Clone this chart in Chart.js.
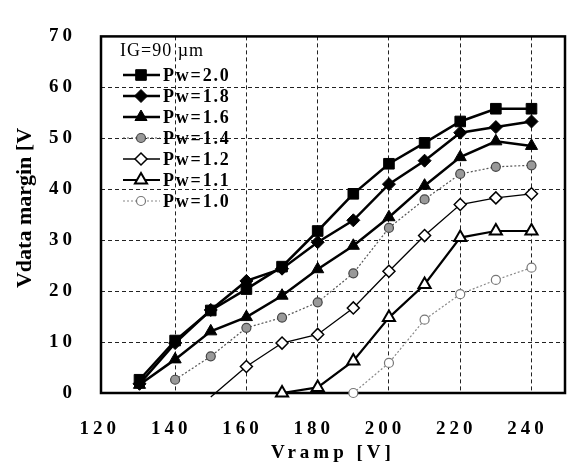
<!DOCTYPE html>
<html>
<head>
<meta charset="utf-8">
<script src="https://cdn.jsdelivr.net/npm/chart.js@4.4.1/dist/chart.umd.min.js"></script>
<style>
  html, body { margin: 0; padding: 0; background: #fff; }
</style>
</head>
<body>
<canvas id="chart" width="574" height="468"></canvas>
<script>
// Vramp values (x) and tick labels
var vramp = [130, 140, 150, 160, 170, 180, 190, 200, 210, 220, 230, 240];
var xTicks = [120, 140, 160, 180, 200, 220, 240];
var yTicks = [0, 10, 20, 30, 40, 50, 60, 70];

// Vdata margin per pulse width
var pw20 = [2.6, 10.3, 16.2, 20.4, 24.8, 31.8, 39.1, 45.0, 49.1, 53.3, 55.8, 55.8];
var pw18 = [1.8, 9.8, 16.3, 22.0, 24.4, 29.6, 33.9, 41.0, 45.6, 51.1, 52.2, 53.3];
var pw16 = [1.6, 6.6, 12.1, 14.9, 19.1, 24.3, 28.9, 34.5, 40.7, 46.3, 49.4, 48.5];
var pw14 = [null, 2.6, 7.2, 12.8, 14.8, 17.8, 23.5, 32.4, 38.0, 43.0, 44.4, 44.7];
var pw12 = [null, null, -0.8, 5.2, 9.8, 11.5, 16.7, 23.9, 30.9, 37.0, 38.3, 39.1];
var pw11 = [null, null, null, null, 0, 1.1, 6.3, 14.8, 21.3, 30.5, 31.8, 31.8];
var pw10 = [null, null, null, null, null, null, 0, 5.9, 14.4, 19.4, 22.2, 24.6];

var legendTitle = "IG=90 \u00b5m";
var serif = "'Liberation Serif', 'DejaVu Serif', serif";

function toPoints(values) {
  return vramp.map(function (x, i) { return { x: x, y: values[i] }; });
}

// hide markers that fall below the axis
function radiusFor(r) {
  return function (ctx) {
    var v = ctx.raw ? ctx.raw.y : null;
    return v !== null && v < 0 ? 0 : r;
  };
}

function series(label, values, style) {
  return Object.assign({
    label: label,
    data: toPoints(values),
    showLine: true,
    clip: false,
    borderColor: "#000",
    borderWidth: 2.5,
    pointBorderColor: "#000",
    pointBackgroundColor: "#000",
    pointBorderWidth: 1,
    pointRadius: radiusFor(style.r || 6),
    legendRadius: style.r || 6
  }, style);
}

var datasets = [
  series("Pw=2.0", pw20, { pointStyle: "rect", r: 7.5 }),
  series("Pw=1.8", pw18, { pointStyle: "rectRot", r: 6.5 }),
  series("Pw=1.6", pw16, { pointStyle: "triangle", r: 7 }),
  series("Pw=1.4", pw14, { pointStyle: "circle", r: 4.5, borderColor: "#555", borderWidth: 1.2,
    borderDash: [2, 2], pointBackgroundColor: "#999", pointBorderColor: "#444", pointBorderWidth: 1.2 }),
  series("Pw=1.2", pw12, { pointStyle: "rectRot", r: 6, borderWidth: 1.3,
    pointBackgroundColor: "#fff", pointBorderWidth: 1.5 }),
  series("Pw=1.1", pw11, { pointStyle: "triangle", r: 7, borderWidth: 2.2,
    pointBackgroundColor: "#fff", pointBorderWidth: 2 }),
  series("Pw=1.0", pw10, { pointStyle: "circle", r: 4.5, borderColor: "#888", borderWidth: 1.2,
    borderDash: [2, 2], pointBackgroundColor: "#fff", pointBorderColor: "#777", pointBorderWidth: 1.2 })
];

// wide letter spacing like the scanned figure
var spacingPlugin = {
  id: "spacing",
  beforeDraw: function (chart) { chart.ctx.letterSpacing = "4px"; }
};

var framePlugin = {
  id: "frame",
  beforeDatasetsDraw: function (chart) {
    var a = chart.chartArea, ctx = chart.ctx;
    ctx.save();
    ctx.strokeStyle = "#000";
    ctx.lineWidth = 2.5;
    ctx.strokeRect(a.left, a.top, a.right - a.left, a.bottom - a.top);
    ctx.restore();
  }
};

var textPlugin = {
  id: "texts",
  afterDraw: function (chart) {
    var ctx = chart.ctx;
    ctx.save();
    ctx.fillStyle = "#000";

    // y axis title
    ctx.letterSpacing = "0px";
    ctx.save();
    ctx.translate(25, 208);
    ctx.rotate(-Math.PI / 2);
    ctx.font = "bold 22px " + serif;
    ctx.textAlign = "center";
    ctx.textBaseline = "middle";
    ctx.fillText("Vdata margin [V", 0, 0);
    ctx.restore();

    // legend
    ctx.textAlign = "left";
    ctx.textBaseline = "middle";
    ctx.letterSpacing = "1px";
    ctx.font = "18px " + serif;
    ctx.fillText(legendTitle, 120, 51);

    ctx.letterSpacing = "1.8px";
    ctx.font = "bold 18px " + serif;
    chart.data.datasets.forEach(function (ds, i) {
      var y = 75 + i * 21;
      ctx.save();
      ctx.strokeStyle = ds.borderColor;
      ctx.lineWidth = ds.borderWidth;
      ctx.setLineDash(ds.borderDash || []);
      ctx.beginPath();
      ctx.moveTo(123, y);
      ctx.lineTo(160, y);
      ctx.stroke();
      ctx.setLineDash([]);
      ctx.fillStyle = ds.pointBackgroundColor;
      ctx.strokeStyle = ds.pointBorderColor;
      ctx.lineWidth = ds.pointBorderWidth;
      Chart.helpers.drawPoint(ctx, { pointStyle: ds.pointStyle, radius: ds.legendRadius, rotation: 0, borderWidth: ds.pointBorderWidth }, 141, y);
      ctx.restore();
      ctx.fillText(ds.label, 163, y + 1);
    });
    ctx.restore();
  }
};

var tickFont = { family: serif, size: 19, weight: "bold" };

var ctx = document.getElementById("chart").getContext("2d");
var chart = new Chart(ctx, {
  type: "scatter",
  data: { datasets: datasets },
  options: {
    responsive: false,
    animation: false,
    layout: { padding: { top: 15, right: 4, left: 0, bottom: 0 } },
    plugins: {
      legend: { display: false },
      tooltip: { enabled: false }
    },
    scales: {
      x: {
        type: "linear",
        min: 119.2,
        max: 249.4,
        afterBuildTicks: function (s) { s.ticks = xTicks.map(function (v) { return { value: v }; }); },
        afterFit: function (s) { s.height = 75; },
        grid: {
          drawTicks: false,
          lineWidth: 1,
          color: function (c) { return c.tick && c.tick.value === 120 ? "rgba(0,0,0,0)" : "#222"; }
        },
        border: { display: false, dash: [4, 3] },
        ticks: { font: tickFont, color: "#000", padding: 25, labelOffset: -4, maxRotation: 0, autoSkip: false },
        title: { display: true, text: "Vramp [V]", color: "#000", font: { family: serif, size: 19, weight: "bold" }, padding: { top: 0, bottom: 4 } }
      },
      y: {
        min: 0,
        max: 70,
        afterBuildTicks: function (s) { s.ticks = yTicks.map(function (v) { return { value: v }; }); },
        afterFit: function (s) { s.width = 101; },
        grid: { drawTicks: false, lineWidth: 1, color: "#222" },
        border: { display: false, dash: [4, 3] },
        ticks: { font: tickFont, color: "#000", padding: 25 }
      }
    }
  },
  plugins: [spacingPlugin, framePlugin, textPlugin]
});
</script>
</body>
</html>
